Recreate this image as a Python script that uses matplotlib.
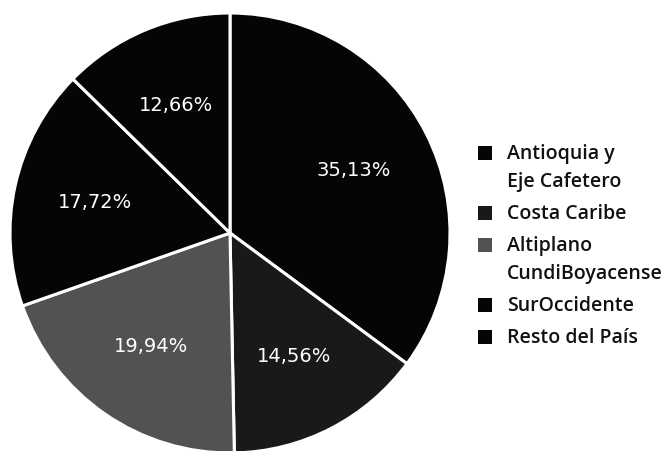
import matplotlib
matplotlib.use("Agg")
import matplotlib.pyplot as plt
from matplotlib.patches import Rectangle

# datos de la torta (sentido horario desde arriba)
regiones = ["Antioquia y\nEje Cafetero", "Costa Caribe", "Altiplano\nCundiBoyacense",
            "SurOccidente", "Resto del País"]
porcentajes = [35.13, 14.56, 19.94, 17.72, 12.66]
colores = ["#050505", "#191919", "#525252", "#050505", "#050505"]

fig = plt.figure(figsize=(6.71, 4.51), dpi=100)
ax = fig.add_axes([10 / 671, -2 / 451, 440 / 671, 440 / 451])

wedges, textos, autotextos = ax.pie(
    porcentajes, colors=colores, startangle=90, counterclock=False,
    radius=1, pctdistance=0.63,
    autopct=lambda p: f"{p:.2f}%".replace(".", ","),
    wedgeprops=dict(edgecolor="white", linewidth=2.2),
    textprops=dict(color="white", fontsize=14, family="DejaVu Sans"),
)
for w in wedges:
    w.set_clip_on(False)
ax.set_xlim(-1, 1)
ax.set_ylim(-1, 1)
ax.set_aspect("equal")
ax.axis("off")

# leyenda a mano para que el cuadro quede en la primera línea
x_cuadro = 478 / 671
x_texto = 507 / 671
alto_linea = 28
y = 155.0
for nombre, color in zip(regiones, colores):
    fig.patches.append(Rectangle((x_cuadro, 1 - (y + 5) / 451), 14 / 671, 14 / 451,
                                 transform=fig.transFigure, facecolor=color,
                                 edgecolor="none"))
    fig.text(x_texto, 1 - (y - 11) / 451, nombre, fontsize=14, family="Open Sans",
             weight="semibold", va="top", ha="left", color="#111111",
             linespacing=1.55)
    n = nombre.count("\n") + 1
    y += alto_linea * (n - 1) + 32

fig.savefig("out.png", dpi=100, facecolor="white")
